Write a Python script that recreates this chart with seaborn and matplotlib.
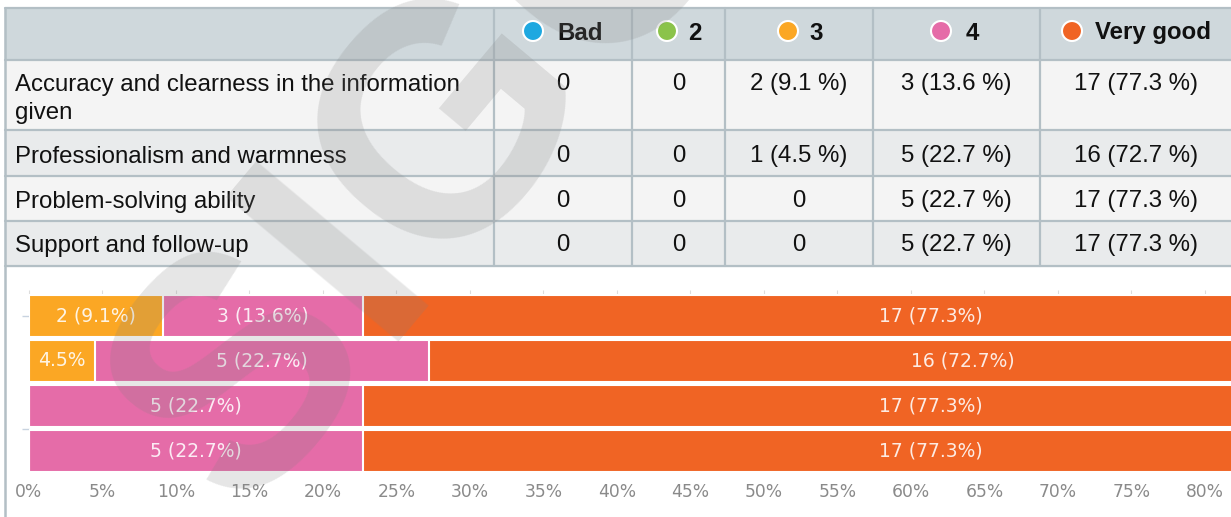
import numpy as np
import pandas as pd
import matplotlib.pyplot as plt
from matplotlib.patches import Rectangle, Circle
import seaborn as sns

questions = ["Accuracy and clearness in the information\ngiven",
             "Professionalism and warmness",
             "Problem-solving ability",
             "Support and follow-up"]
categories = ["Bad", "2", "3", "4", "Very good"]
colors = ["#1ea8e0", "#8bc34a", "#fba724", "#e56ca8", "#f06424"]

# answer counts per category (22 answers per question)
bad = [0, 0, 0, 0]
two = [0, 0, 0, 0]
three = [2, 1, 0, 0]
four = [3, 5, 5, 5]
very_good = [17, 16, 17, 17]

# percentages as shown
bad_pct = [0, 0, 0, 0]
two_pct = [0, 0, 0, 0]
three_pct = [9.1, 4.5, 0, 0]
four_pct = [13.6, 22.7, 22.7, 22.7]
very_good_pct = [77.3, 72.7, 77.3, 77.3]

tick_values = list(range(0, 85, 5))

counts = [bad, two, three, four, very_good]
pcts = [bad_pct, two_pct, three_pct, four_pct, very_good_pct]

sns.set_style("white")
plt.rcParams["font.family"] = ["Liberation Sans", "DejaVu Sans"]
plt.rcParams["text.color"] = "#111111"

W, H = 1231, 517
fig = plt.figure(figsize=(W / 100, H / 100), dpi=100)

# ---------- table (pixel coordinates) ----------
tab = fig.add_axes([0, 0, 1, 1])
tab.set_xlim(0, W)
tab.set_ylim(H, 0)
tab.axis("off")

row_lines = [8, 60, 130, 176, 221, 266]
col_lines = [5, 494, 632, 725, 873, 1040, W]
border = "#b3bfc5"
row_bg = ["#f4f4f4", "#e9ebec", "#f4f4f4", "#e9ebec"]

tab.add_patch(Rectangle((5, 8), W - 5, 52, color="#cfd8dc", zorder=0))
for i in range(4):
    tab.add_patch(Rectangle((5, row_lines[i + 1]), W - 5, row_lines[i + 2] - row_lines[i + 1],
                            color=row_bg[i], zorder=0))
for y in row_lines:
    tab.plot([5, W], [y, y], color=border, lw=1.6, zorder=1)
for x in col_lines[1:-1]:
    tab.plot([x, x], [8, 266], color=border, lw=1.6, zorder=1)
tab.plot([5, 5], [8, H], color=border, lw=1.8, zorder=1)

fs = 17.3
circle_x = [533, 667, 788, 941, 1072]
text_x = [557, 688, 809, 966, 1095]
for j, cat in enumerate(categories):
    tab.add_patch(Circle((circle_x[j], 31), 10, facecolor=colors[j], edgecolor="white", lw=1.5, zorder=2))
    tab.text(text_x[j], 33, cat, fontsize=fs, fontweight="bold", ha="left", va="center", zorder=2)

row_text_y = [84, 156, 201, 245]
col_centers = [(col_lines[k + 1] + col_lines[k + 2]) / 2 for k in range(5)]
col_centers[-1] = 1136
for i, q in enumerate(questions):
    tab.text(15, row_text_y[i] - 10, q, fontsize=fs, ha="left", va="top", linespacing=1.35, zorder=2)
    for j in range(5):
        c = counts[j][i]
        s = "0" if c == 0 else f"{c} ({pcts[j][i]} %)"
        tab.text(col_centers[j], row_text_y[i], s, fontsize=fs, ha="center", va="center", zorder=2)

# ---------- stacked bar chart ----------
px_per_pct = 14.7
x0 = 29
ax = fig.add_axes([x0 / W, (H - 473.5) / H, (W - x0) / W, 180 / H])

cum = np.zeros(4)
cums = []
for p in pcts:
    cum = cum + np.array(p)
    cums.append(cum.copy())

# draw the cumulative totals from widest to narrowest so the segments stack
for j in reversed(range(5)):
    if sum(counts[j]) == 0:
        continue
    df = pd.DataFrame({"question": questions, "value": cums[j]})
    sns.barplot(data=df, x="value", y="question", color=colors[j], orient="h",
                width=0.935, edgecolor="white", linewidth=1.5, saturation=1, ax=ax)

for i in range(4):
    left = 0
    for j in range(5):
        p = pcts[j][i]
        c = counts[j][i]
        if c > 0:
            lab = f"{p}%" if p < 5 else f"{c} ({p}%)"
            ax.text(left + p / 2, i, lab, ha="center", va="center", color="white", alpha=0.88,
                    fontsize=13.5, family="DejaVu Sans", zorder=5)
        left += p

ax.set_xlim(0, (W - x0) / px_per_pct)
ax.set_ylim(3.5, -0.5)
ax.set_xticks(tick_values)
ax.set_xticklabels([f"{t}%" for t in tick_values], family="DejaVu Sans", fontsize=12.3, color="#8a8a8a")
ax.set_yticks([0, 2.5])
ax.set_yticklabels(["", ""])
ax.set_xlabel("")
ax.set_ylabel("")
ax.tick_params(axis="x", top=True, bottom=False, labeltop=False, labelbottom=True,
               color="#dddddd", length=3, pad=4)
ax.tick_params(axis="y", left=True, color="#c8d3e0", length=5, width=1)
for s in ax.spines.values():
    s.set_visible(False)
ax.patch.set_alpha(0)

# watermark
fig.text(440 / W, 1 - 150 / H, "SIGO", rotation=50, fontsize=235, fontweight="bold",
         color="#808080", alpha=0.2, ha="center", va="center", zorder=10)

fig.savefig("out.png", dpi=100)
